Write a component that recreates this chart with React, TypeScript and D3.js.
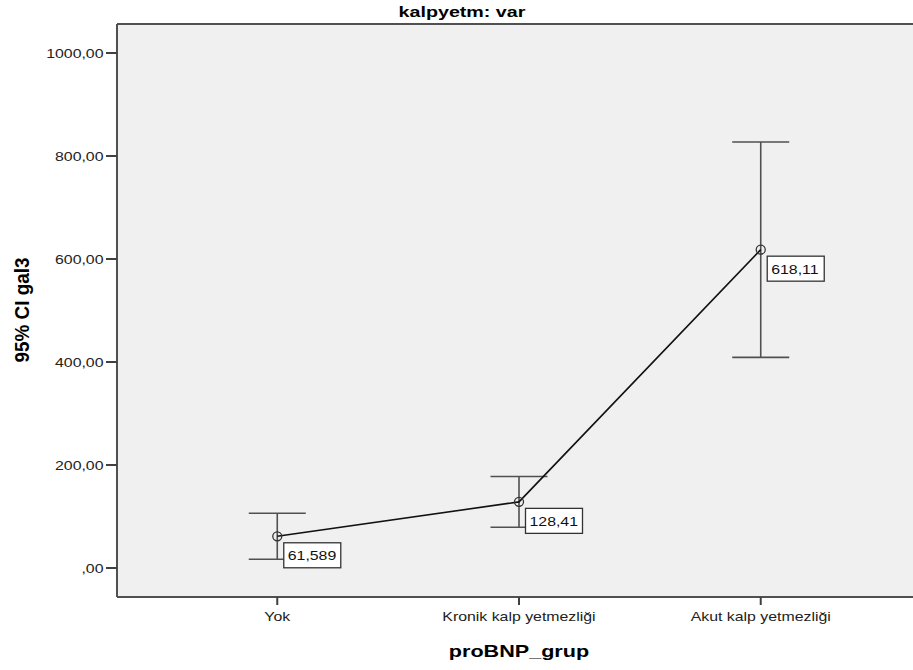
import React from "react";
import * as d3 from "d3";

// Group means with 95% confidence limits
const categories = ["Yok", "Kronik kalp yetmezliği", "Akut kalp yetmezliği"];
const means = [61.589, 128.41, 618.11];
const lowerCI = [16.9, 79.0, 409.0];
const upperCI = [106.3, 177.8, 827.2];
const yTicks = [0, 200, 400, 600, 800, 1000];

const title = "kalpyetm: var";
const xTitle = "proBNP_grup";
const yTitle = "95% CI gal3";

const W = 913;
const H = 670;
const plot = { left: 117, right: 921, top: 24, bottom: 597 };
const FONT = "'Liberation Sans', Arial, sans-serif";
const SX = 1.27; // horizontal stretch of the lettering

const commaNum = (v: number) => {
  if (v === 0) return ",00";
  return d3.format(".2f")(v).replace(".", ",");
};
const valueLabel = (v: number) => d3.format(".5r")(v).replace(".", ",");

function SText(props: {
  x: number;
  y: number;
  anchor?: string;
  size: number;
  bold?: boolean;
  fill?: string;
  children: React.ReactNode;
}) {
  const { x, y, anchor = "start", size, bold, fill = "#222", children } = props;
  return (
    <text
      transform={`translate(${x},${y}) scale(${SX},1)`}
      textAnchor={anchor}
      fontFamily={FONT}
      fontSize={size}
      fontWeight={bold ? "bold" : "normal"}
      fill={fill}
    >
      {children}
    </text>
  );
}

export default function App() {
  const x = d3
    .scalePoint<string>()
    .domain(categories)
    .range([plot.left, plot.right])
    .padding(0.663);
  const y = d3
    .scaleLinear()
    .domain([-56.3, 1056.3])
    .range([plot.bottom, plot.top]);

  const pts = categories.map((c, i) => ({
    c,
    x: x(c) as number,
    m: means[i],
    lo: lowerCI[i],
    hi: upperCI[i],
  }));

  const line = d3
    .line<{ x: number; m: number }>()
    .x((d) => d.x)
    .y((d) => y(d.m));

  const capHalf = 28.5;
  const boxW = 57;
  const boxH = 25;

  return (
    <svg
      width={W}
      height={H}
      style={{ position: "absolute", left: 0, top: 0, background: "#fff" }}
    >
      <rect x={0} y={0} width={W} height={H} fill="#fff" />
      {/* plot area */}
      <rect
        x={plot.left}
        y={plot.top}
        width={plot.right - plot.left}
        height={plot.bottom - plot.top}
        fill="#f0f0f0"
      />
      <line x1={plot.left} x2={plot.right} y1={plot.top} y2={plot.top} stroke="#505050" strokeWidth={2} />
      <line x1={plot.left} x2={plot.right} y1={plot.bottom} y2={plot.bottom} stroke="#505050" strokeWidth={2} />
      <line x1={plot.left} x2={plot.left} y1={plot.top} y2={plot.bottom} stroke="#505050" strokeWidth={2} />

      {/* y axis */}
      {yTicks.map((t) => (
        <g key={t}>
          <line x1={106} x2={plot.left} y1={y(t)} y2={y(t)} stroke="#404040" strokeWidth={2} />
          <SText x={103.5} y={y(t) + 5} anchor="end" size={12.5}>
            {commaNum(t)}
          </SText>
        </g>
      ))}

      {/* x axis */}
      {pts.map((p) => (
        <g key={p.c}>
          <line x1={p.x} x2={p.x} y1={plot.bottom} y2={plot.bottom + 8} stroke="#404040" strokeWidth={2} />
          <SText x={p.x} y={621} anchor="middle" size={12.5}>
            {p.c}
          </SText>
        </g>
      ))}

      {/* error bars */}
      {pts.map((p) => (
        <g key={"e" + p.c} stroke="#505050" strokeWidth={1.6}>
          <line x1={p.x} x2={p.x} y1={y(p.hi)} y2={y(p.lo)} />
          <line x1={p.x - capHalf} x2={p.x + capHalf} y1={y(p.hi)} y2={y(p.hi)} />
          <line x1={p.x - capHalf} x2={p.x + capHalf} y1={y(p.lo)} y2={y(p.lo)} />
        </g>
      ))}

      {/* line through means */}
      <path d={line(pts) || ""} fill="none" stroke="#111" strokeWidth={1.6} />
      {pts.map((p) => (
        <circle key={"c" + p.c} cx={p.x} cy={y(p.m)} r={4.5} fill="none" stroke="#333" strokeWidth={1.3} />
      ))}

      {/* value labels */}
      {pts.map((p) => {
        const bx = p.x + 6.5;
        const by = y(p.m) + 6.5;
        return (
          <g key={"l" + p.c}>
            <rect x={bx} y={by} width={boxW} height={boxH} fill="#fff" stroke="#333" strokeWidth={1.3} />
            <SText x={bx + 4} y={by + 17.5} size={12.5} fill="#111">
              {valueLabel(p.m)}
            </SText>
          </g>
        );
      })}

      {/* titles */}
      <SText x={462} y={17} anchor="middle" size={15.5} bold fill="#000">
        {title}
      </SText>
      <SText x={519} y={657} anchor="middle" size={17} bold fill="#000">
        {xTitle}
      </SText>
      <text
        transform={`translate(29,310) scale(1.2,1) rotate(-90)`}
        textAnchor="middle"
        fontFamily={FONT}
        fontSize={16.5}
        fontWeight="bold"
        fill="#000"
        textLength={105}
        lengthAdjust="spacingAndGlyphs"
      >
        {yTitle}
      </text>
    </svg>
  );
}
